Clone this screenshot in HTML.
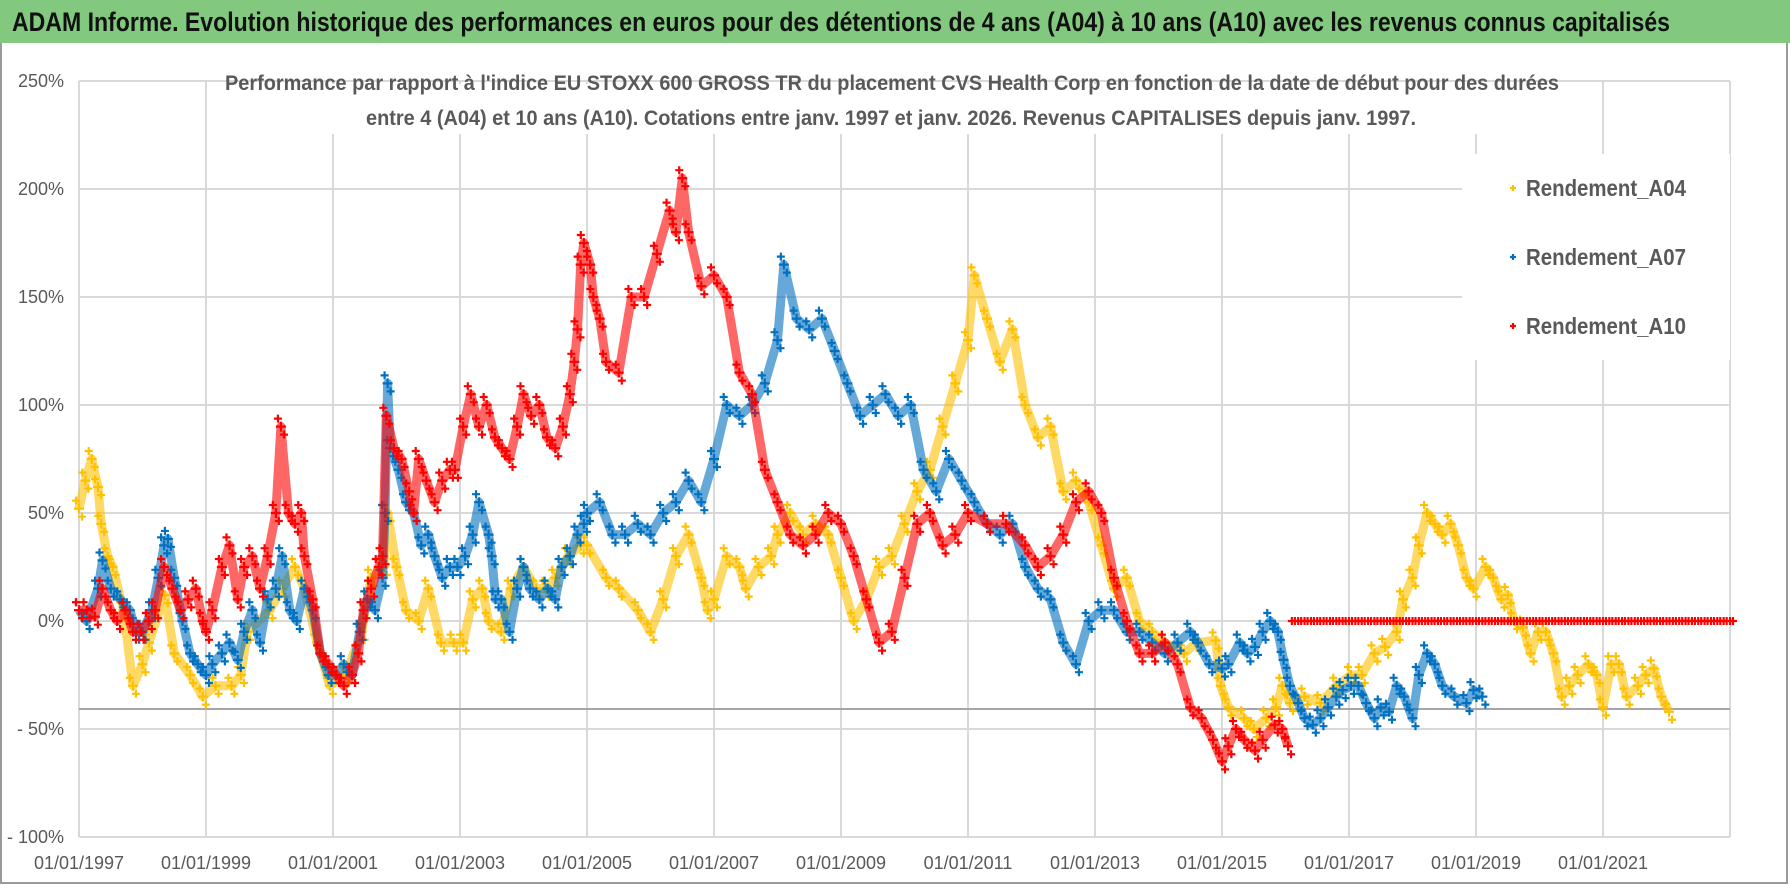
<!DOCTYPE html>
<html><head><meta charset="utf-8"><style>
html,body{margin:0;padding:0;background:#fff;}
svg{display:block;}
text{font-family:"Liberation Sans Narrow","Liberation Sans",sans-serif;}
</style></head><body>
<svg id="chart" width="1790" height="886" viewBox="0 0 1790 886" xmlns="http://www.w3.org/2000/svg">
<rect x="0" y="0" width="1790" height="886" fill="#fff"/>
<rect x="1" y="1" width="1786" height="882" fill="none" stroke="#9a9a9a" stroke-width="2"/>
<rect x="0" y="0" width="1790" height="43" fill="#82c97f"/>
<text x="12" y="31" font-size="27" font-weight="bold" fill="#111" textLength="1658" lengthAdjust="spacingAndGlyphs">ADAM Informe. Evolution historique des performances en euros pour des détentions de 4 ans (A04) à 10 ans (A10) avec les revenus connus capitalisés</text>
<g id="grid"></g>
<line x1="79" x2="1730" y1="709" y2="709" stroke="#a6a6a6" stroke-width="2"/>
<g id="yaxis"></g>
<g id="xaxis"></g>
<g id="series"></g>
<rect x="218" y="84" width="1349" height="50" fill="#fff"/>
<text x="225" y="90" font-size="21" font-weight="bold" fill="#595959" textLength="1334" lengthAdjust="spacingAndGlyphs">Performance par rapport à l'indice EU STOXX 600 GROSS TR  du placement CVS Health Corp en fonction de la date de début pour des durées</text>
<text x="366" y="125" font-size="21" font-weight="bold" fill="#595959" textLength="1050" lengthAdjust="spacingAndGlyphs">entre 4 (A04) et 10 ans (A10).  Cotations entre janv. 1997 et janv. 2026.  Revenus CAPITALISES  depuis janv. 1997.</text>
<rect x="1462" y="154" width="268" height="206" fill="#fff"/>
<g id="legend"></g>
</svg>
<script>
const yTicks=[250,200,150,100,50,0,-50,-100];
const yTickLabels=["250%","200%","150%","100%","50%","0%","- 50%","- 100%"];
const xTicks=[1997,1999,2001,2003,2005,2007,2009,2011,2013,2015,2017,2019,2021];
const xTickLabels=["01/01/1997","01/01/1999","01/01/2001","01/01/2003","01/01/2005","01/01/2007","01/01/2009","01/01/2011","01/01/2013","01/01/2015","01/01/2017","01/01/2019","01/01/2021"];
const seriesNames=["Rendement_A04","Rendement_A07","Rendement_A10"];
const a04Dates=[1997.0,1997.1,1997.2,1997.3,1997.35,1997.45,1997.53,1997.7,1997.85,1998.0,1998.1,1998.35,1998.5,1998.75,1998.95,1999.15,1999.4,1999.55,1999.65,2000.0,2000.2,2000.4,2000.55,2000.75,2000.95,2001.2,2001.45,2001.6,2001.8,2001.86,2002.0,2002.15,2002.35,2002.5,2002.7,2002.9,2003.05,2003.2,2003.35,2003.45,2003.65,2003.8,2004.0,2004.2,2004.35,2004.5,2004.7,2004.9,2005.0,2005.3,2005.5,2005.8,2006.0,2006.2,2006.4,2006.6,2006.8,2006.9,2007.0,2007.2,2007.4,2007.5,2007.7,2007.9,2008.0,2008.2,2008.4,2008.6,2008.8,2009.0,2009.2,2009.4,2009.6,2009.8,2010.0,2010.2,2010.4,2010.6,2010.8,2011.0,2011.1,2011.3,2011.5,2011.7,2011.9,2012.1,2012.3,2012.5,2012.7,2012.9,2013.1,2013.3,2013.5,2013.7,2013.9,2014.1,2014.4,2014.6,2014.9,2014.98,2015.1,2015.35,2015.5,2015.7,2015.85,2015.95,2016.07,2016.3,2016.55,2016.8,2017.03,2017.2,2017.4,2017.57,2017.75,2017.85,2018.0,2018.1,2018.23,2018.35,2018.47,2018.6,2018.72,2018.85,2018.96,2019.15,2019.27,2019.4,2019.5,2019.6,2019.74,2019.86,2019.98,2020.1,2020.22,2020.35,2020.47,2020.6,2020.77,2020.9,2021.0,2021.13,2021.25,2021.37,2021.55,2021.67,2021.8,2021.92,2022.04];
const a04Values=[52,65,75,62,45,30,25,5,-30,-20,-10,12,-15,-25,-35,-30,-30,-25,-5,5,15,25,15,-10,-30,-25,-5,20,25,50,25,5,0,15,-10,-10,-10,10,15,0,-5,15,25,15,15,20,30,35,35,20,15,5,-5,10,30,40,20,5,10,30,25,15,25,30,40,50,40,45,40,20,0,10,25,30,45,60,70,90,110,130,160,140,120,135,100,85,90,60,65,55,35,15,20,0,-5,-10,-15,-10,-9,-30,-40,-45,-50,-45,-40,-30,-38,-35,-38,-30,-25,-25,-15,-12,-5,10,20,35,50,45,40,45,35,20,15,25,20,10,12,0,-3,-15,-5,-5,-15,-35,-30,-25,-20,-25,-40,-20,-20,-35,-30,-25,-22,-35,-42];
const a07Dates=[1997.0,1997.12,1997.3,1997.37,1997.5,1997.65,1997.8,1997.9,1998.0,1998.15,1998.25,1998.34,1998.4,1998.5,1998.63,1998.75,1998.87,1999.0,1999.1,1999.25,1999.37,1999.5,1999.6,1999.73,1999.85,1999.97,2000.1,2000.2,2000.32,2000.43,2000.55,2000.68,2000.8,2000.93,2001.05,2001.17,2001.3,2001.42,2001.54,2001.66,2001.78,2001.82,2001.86,2001.9,2002.03,2002.15,2002.27,2002.39,2002.5,2002.6,2002.72,2002.84,2002.96,2003.08,2003.2,2003.3,2003.45,2003.5,2003.56,2003.65,2003.78,2003.9,2004.0,2004.1,2004.25,2004.38,2004.5,2004.6,2004.73,2004.85,2004.95,2005.0,2005.2,2005.4,2005.6,2005.8,2006.0,2006.2,2006.4,2006.6,2006.8,2007.0,2007.2,2007.4,2007.6,2007.8,2008.0,2008.1,2008.3,2008.5,2008.7,2008.9,2009.1,2009.3,2009.5,2009.7,2009.9,2010.1,2010.3,2010.5,2010.7,2010.9,2011.1,2011.3,2011.5,2011.7,2011.9,2012.1,2012.3,2012.5,2012.7,2012.9,2013.1,2013.3,2013.5,2013.7,2013.9,2014.1,2014.3,2014.5,2014.62,2014.8,2015.0,2015.1,2015.28,2015.4,2015.52,2015.64,2015.76,2015.88,2015.97,2016.07,2016.2,2016.3,2016.43,2016.55,2016.67,2016.8,2016.9,2017.03,2017.15,2017.27,2017.4,2017.5,2017.63,2017.75,2017.87,2018.0,2018.1,2018.23,2018.35,2018.47,2018.66,2018.85,2018.96,2019.1];
const a07Values=[5,0,15,28,15,10,5,-5,-5,5,20,35,38,20,0,-15,-20,-25,-20,-15,-10,-18,-5,5,-10,10,15,30,5,0,15,5,-15,-25,-25,-20,-25,-5,10,5,20,50,110,80,70,55,50,35,40,30,20,25,25,30,40,55,40,30,10,10,-5,15,25,15,10,15,10,25,30,40,45,50,55,40,40,45,40,50,55,65,55,75,100,95,100,110,130,165,140,135,140,125,110,95,100,105,95,100,70,60,75,65,55,45,40,45,25,15,10,-10,-20,0,5,5,-5,-5,-10,-15,-10,-5,-10,-20,-22,-20,-10,-15,-12,-5,0,-5,-18,-30,-38,-45,-48,-45,-40,-35,-32,-30,-30,-38,-45,-40,-42,-30,-35,-45,-25,-15,-20,-30,-35,-38,-32,-35];
const a10Dates=[1997.0,1997.12,1997.25,1997.37,1997.5,1997.6,1997.73,1997.85,1997.97,1998.1,1998.2,1998.34,1998.47,1998.6,1998.72,1998.84,1998.95,1999.0,1999.1,1999.25,1999.37,1999.5,1999.6,1999.73,1999.85,1999.97,2000.1,2000.18,2000.3,2000.4,2000.5,2000.55,2000.68,2000.8,2000.93,2001.05,2001.17,2001.3,2001.4,2001.48,2001.6,2001.72,2001.78,2001.84,2001.96,2002.08,2002.2,2002.27,2002.35,2002.47,2002.6,2002.72,2002.84,2002.92,2003.05,2003.17,2003.3,2003.42,2003.55,2003.66,2003.78,2003.9,2004.0,2004.12,2004.25,2004.37,2004.5,2004.62,2004.73,2004.8,2004.85,2004.9,2004.95,2005.05,2005.1,2005.2,2005.3,2005.5,2005.7,2005.9,2006.1,2006.3,2006.4,2006.5,2006.6,2006.8,2007.0,2007.2,2007.4,2007.6,2007.8,2008.0,2008.2,2008.4,2008.6,2008.8,2009.0,2009.2,2009.4,2009.6,2009.8,2010.0,2010.2,2010.4,2010.6,2010.8,2011.0,2011.3,2011.6,2011.9,2012.1,2012.3,2012.5,2012.7,2012.9,2013.1,2013.3,2013.5,2013.7,2013.9,2014.1,2014.3,2014.5,2014.68,2014.86,2015.0,2015.1,2015.22,2015.35,2015.52,2015.64,2015.83,2015.95,2016.04];
const a10Values=[5,5,2,15,5,0,5,-5,-5,0,5,25,15,5,10,15,0,-5,5,25,35,10,25,30,15,30,50,90,50,45,50,30,10,-15,-20,-25,-30,-25,-15,5,15,25,30,95,80,75,60,50,75,65,55,65,70,70,90,105,90,100,85,80,75,90,105,95,100,85,80,90,105,120,135,165,175,165,150,140,120,115,150,150,170,190,180,205,180,155,160,150,115,105,70,55,40,35,40,50,45,30,10,-10,-5,20,45,50,35,40,50,45,45,35,25,30,40,55,60,50,20,0,-15,-15,-10,-20,-40,-45,-55,-65,-58,-50,-55,-60,-55,-48,-50,-58];
const a10FlatDates=[2016.1,2016.2,2016.3,2016.4,2016.5,2016.6,2016.7,2016.8,2016.9,2017.0,2017.1,2017.2,2017.3,2017.4,2017.5,2017.6,2017.7,2017.8,2017.9,2018.0,2018.1,2018.2,2018.3,2018.4,2018.5,2018.6,2018.7,2018.8,2018.9,2019.0,2019.1,2019.2,2019.3,2019.4,2019.5,2019.6,2019.7,2019.8,2019.9,2020.0,2020.1,2020.2,2020.3,2020.4,2020.5,2020.6,2020.7,2020.8,2020.9,2021.0,2021.1,2021.2,2021.3,2021.4,2021.5,2021.6,2021.7,2021.8,2021.9,2022.0,2022.1,2022.2,2022.3,2022.4,2022.5,2022.6,2022.7,2022.8,2022.9,2023.0];
const a10FlatValues=[0,0,0,0,0,0,0,0,0,0,0,0,0,0,0,0,0,0,0,0,0,0,0,0,0,0,0,0,0,0,0,0,0,0,0,0,0,0,0,0,0,0,0,0,0,0,0,0,0,0,0,0,0,0,0,0,0,0,0,0,0,0,0,0,0,0,0,0,0,0];

const NS="http://www.w3.org/2000/svg";
const X0=79,X1=1730,YR0=1997,YR1=2023,Y0=621,PX=2.16;
function xs(yr){return X0+(yr-YR0)*(X1-X0)/(YR1-YR0);}
function ys(v){return Y0-v*PX;}
function mk(tag,attrs,parent){const e=document.createElementNS(NS,tag);for(const k in attrs)e.setAttribute(k,attrs[k]);parent.appendChild(e);return e;}
const grid=document.getElementById('grid'),yax=document.getElementById('yaxis'),xax=document.getElementById('xaxis'),ser=document.getElementById('series'),leg=document.getElementById('legend');
yTicks.forEach((t,i)=>{
  const l=mk('line',{x1:X0,x2:X1,y1:ys(t),y2:ys(t),stroke:'#d9d9d9','stroke-width':2},grid);
  
  
  const tx=mk('text',{x:64,y:ys(t)+6,'font-size':18,fill:'#595959','text-anchor':'end'},yax);
  tx.textContent=yTickLabels[i];
  
  
});
xTicks.forEach((t,i)=>{
  const l=mk('line',{x1:xs(t),x2:xs(t),y1:ys(250),y2:ys(-100),stroke:'#d9d9d9','stroke-width':2},grid);
  
  
  const tx=mk('text',{x:xs(t),y:869,'font-size':18,fill:'#595959','text-anchor':'middle'},xax);
  tx.textContent=xTickLabels[i];
  
  
});
const rb=mk('line',{x1:X1,x2:X1,y1:ys(250),y2:ys(-100),stroke:'#d9d9d9','stroke-width':2},grid);


function cross(g,x,y,c,s){mk('path',{d:`M${x-s} ${y}H${x+s}M${x} ${y-s}V${y+s}`,stroke:c,'stroke-width':2.2},g);}
function draw(dates,vals,color,name,line){
  const g=mk('g',{},ser);
  
  
  if(line){
    const pts=dates.map((d,i)=>xs(d).toFixed(1)+','+ys(vals[i]).toFixed(1)).join(' ');
    const pl=mk('polyline',{points:pts,fill:'none',stroke:color,'stroke-width':9,'stroke-linejoin':'round','stroke-opacity':0.6},g);
    
    
  }
  dates.forEach((d,i)=>{cross(g,xs(d),ys(vals[i]),color,5);cross(g,xs(d)-3,ys(vals[i])-8,color,4);cross(g,xs(d)+3,ys(vals[i])+8,color,4);});
}
draw(a04Dates,a04Values,'#ffc000','series-a04',true);
draw(a07Dates,a07Values,'#0070c0','series-a07',true);
draw(a10Dates,a10Values,'#ff0000','series-a10',true);
(function(){
  const g=mk('g',{},ser);
  
  
  a10FlatDates.forEach((d,i)=>{cross(g,xs(d),ys(a10FlatValues[i]),'#ff0000',4);cross(g,xs(d)+3,ys(a10FlatValues[i]),'#ff0000',4);});
})();
const legColors=['#ffc000','#0070c0','#ff0000'];
seriesNames.forEach((n,i)=>{
  const y=188+i*69;
  const g=mk('g',{},leg);
  
  
  cross(g,1513,y,legColors[i],3);
  const t=mk('text',{x:1526,y:y+8,'font-size':23,'font-weight':'bold',fill:'#595959',textLength:160,lengthAdjust:'spacingAndGlyphs'},g);
  t.textContent=n;
});
</script>
</body></html>
